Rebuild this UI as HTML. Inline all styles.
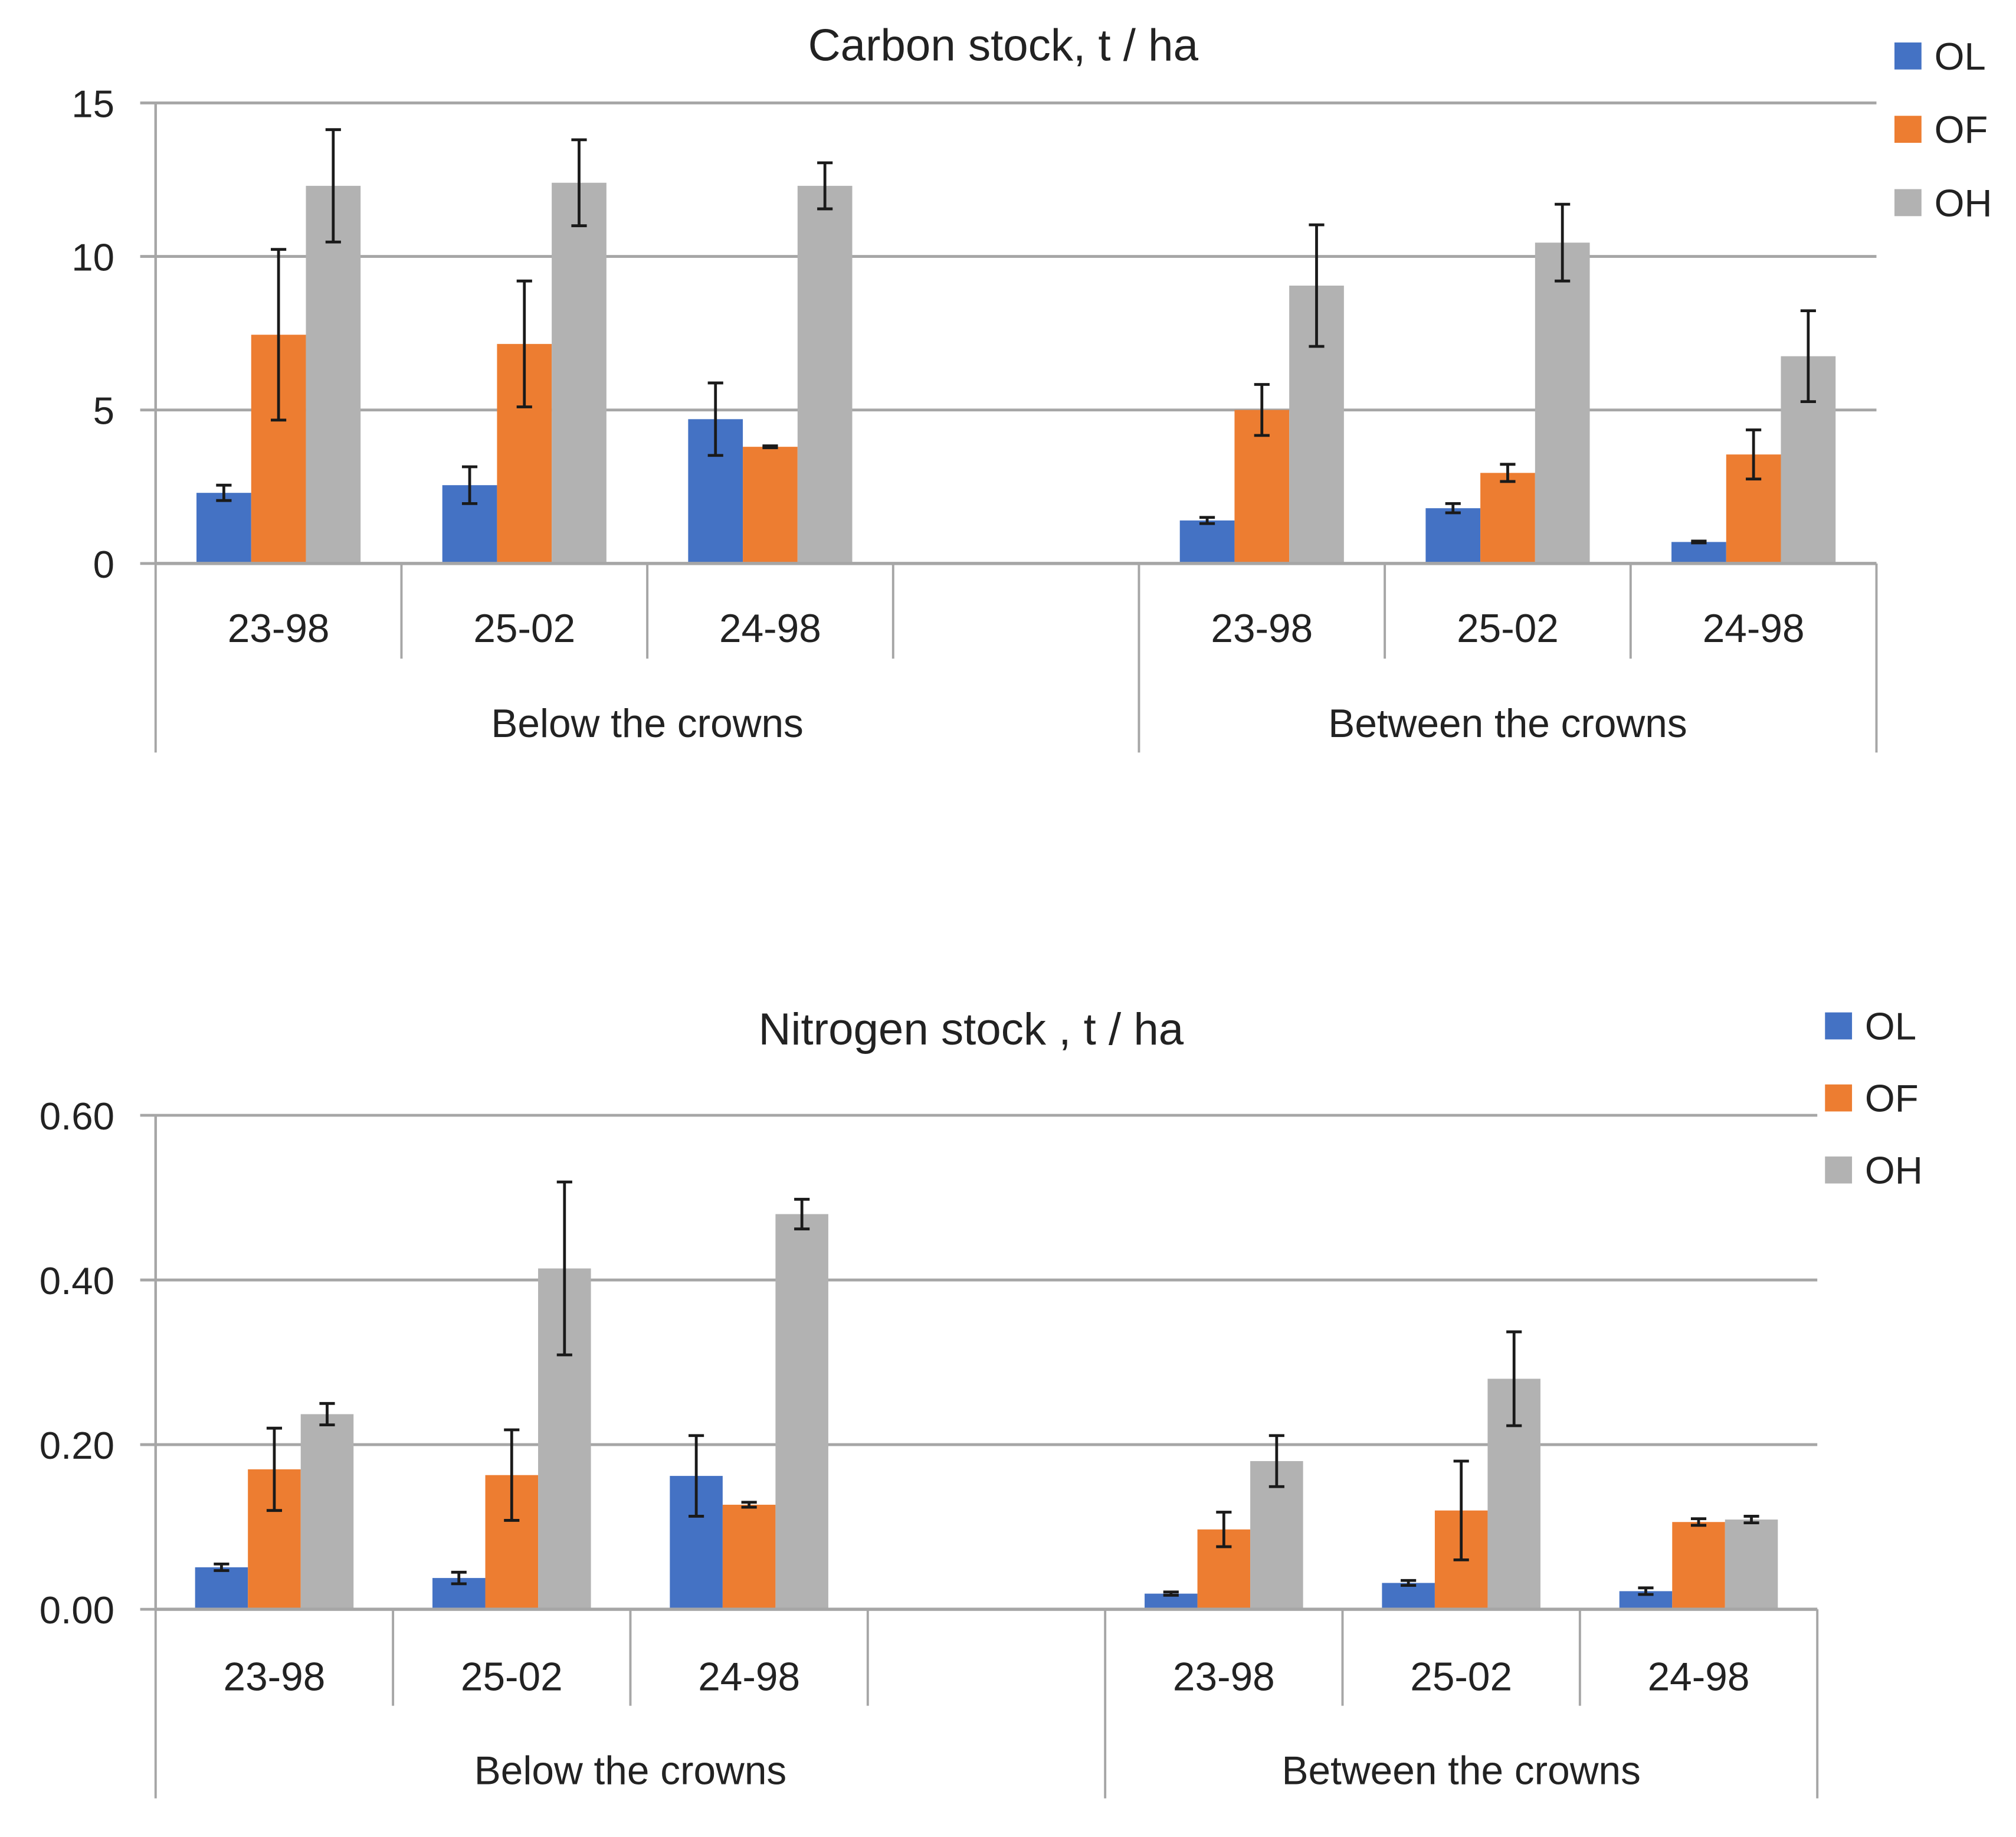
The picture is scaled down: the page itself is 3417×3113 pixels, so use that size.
<!DOCTYPE html>
<html><head><meta charset="utf-8">
<style>
html,body{margin:0;padding:0;background:#fff;}
svg{display:block;font-family:"Liberation Sans",sans-serif;}
</style></head>
<body>
<svg id="chart" width="3417" height="3113" viewBox="0 0 1567.5 1428" xmlns="http://www.w3.org/2000/svg"></svg>
<script>
const categories = ["23-98","25-02","24-98","","23-98","25-02","24-98"];
const groups = ["Below the crowns","Between the crowns"];
const seriesNames = ["OL","OF","OH"];
const carbonOL = [2.3,2.55,4.7,null,1.4,1.8,0.7];
const carbonOF = [7.45,7.15,3.8,null,5.0,2.95,3.55];
const carbonOH = [12.3,12.4,12.3,null,9.05,10.45,6.75];
const carbonOLerr = [0.25,0.6,1.18,null,0.1,0.15,0.03];
const carbonOFerr = [2.78,2.05,0.03,null,0.83,0.28,0.8];
const carbonOHerr = [1.83,1.4,0.75,null,1.98,1.25,1.48];
const carbonTicks = [0,5,10,15];
const carbonTickLabels = ["0","5","10","15"];
const nitroOL = [0.051,0.038,0.162,null,0.019,0.032,0.022];
const nitroOF = [0.170,0.163,0.127,null,0.097,0.120,0.106];
const nitroOH = [0.237,0.414,0.480,null,0.180,0.280,0.109];
const nitroOLerr = [0.004,0.007,0.049,null,0.002,0.003,0.004];
const nitroOFerr = [0.05,0.055,0.003,null,0.021,0.06,0.004];
const nitroOHerr = [0.013,0.105,0.018,null,0.031,0.057,0.004];
const nitroTicks = [0,0.2,0.4,0.6];
const nitroTickLabels = ["0.00","0.20","0.40","0.60"];

const colors = ["#4472C4","#ED7D31","#B2B2B2"];
const svg = document.getElementById('chart');
const NS = "http://www.w3.org/2000/svg";
function mk(tag, attrs, parent){const e=document.createElementNS(NS,tag);for(const k in attrs)e.setAttribute(k,attrs[k]);(parent||svg).appendChild(e);return e;}

function drawChart(cfg){
  const g = mk('g',{});
  
  
  const {left,right,top,bottom,max} = cfg;
  const y = v => bottom - (v/max)*(bottom-top);
  const slot = (right-left)/categories.length;
  const x = i => left + slot*i;
  const t = mk('text',{x:(left+right)/2+cfg.titleDx,y:cfg.titleY,'font-size':35,'text-anchor':'middle',fill:'#222'},g);
  t.textContent = cfg.title;
  
  
  cfg.ticks.forEach((v,i)=>{
    const l = mk('line',{x1:left-12,x2:right,y1:y(v),y2:y(v),stroke:'#A6A6A6','stroke-width':2.2},g);
    
    
    const tl = mk('text',{x:left-32,y:y(v)+11,'font-size':30,'text-anchor':'end',fill:'#222'},g);
    tl.textContent = cfg.tickLabels[i];
    
    
  });
  const ya = mk('line',{x1:left,x2:left,y1:top,y2:bottom,stroke:'#A6A6A6','stroke-width':2},g);
  
  
  const bw = 42.5*(slot/191);
  const series = cfg.series;
  categories.forEach((c,i)=>{
    const cx = x(i)+slot/2;
    series.forEach((s,k)=>{
      const v = s.vals[i]; if(v==null) return;
      const bx = cx - 1.5*bw + k*bw;
      const r = mk('rect',{x:bx,y:y(v),width:bw,height:bottom-y(v),fill:colors[k]},g);
      
      
    });
    series.forEach((s,k)=>{
      const v = s.vals[i]; if(v==null) return;
      const e = s.err[i];
      const ex = cx - 1.5*bw + k*bw + bw/2;
      const eg = mk('g',{stroke:'#1a1a1a','stroke-width':2.2},g);
      
      
      mk('line',{x1:ex,x2:ex,y1:y(v+e),y2:y(v-e)},eg);
      mk('line',{x1:ex-6,x2:ex+6,y1:y(v+e),y2:y(v+e)},eg);
      mk('line',{x1:ex-6,x2:ex+6,y1:y(v-e),y2:y(v-e)},eg);
    });
  });
  const xa = mk('line',{x1:left,x2:right,y1:bottom,y2:bottom,stroke:'#A6A6A6','stroke-width':2.5},g);
  
  
  for(let i=0;i<=categories.length;i++){
    const long = (i===0||i===4||i===categories.length);
    const l = mk('line',{x1:x(i),x2:x(i),y1:bottom,y2:long?cfg.groupBottom:cfg.catBottom,stroke:'#A6A6A6','stroke-width':1.8},g);
    
    
  }
  categories.forEach((c,i)=>{
    if(!c) return;
    const tl = mk('text',{x:x(i)+slot/2,y:cfg.catY,'font-size':31,'text-anchor':'middle',fill:'#222'},g);
    tl.textContent = c;
    
    
  });
  groups.forEach((gname,j)=>{
    const a = j===0? x(0):x(4), b = j===0? x(4):x(7);
    const tl = mk('text',{x:(a+b)/2,y:cfg.groupY,'font-size':31,'text-anchor':'middle',fill:'#222'},g);
    tl.textContent = gname;
    
    
  });
  seriesNames.forEach((n,k)=>{
    const ly = cfg.legendY + k*cfg.legendStep;
    const sq = mk('rect',{x:cfg.legendX,y:ly-10,width:21,height:21,fill:colors[k]},g);
    
    
    const tl = mk('text',{x:cfg.legendX+31,y:ly+11,'font-size':30,fill:'#222'},g);
    tl.textContent = n;
    
    
  });
}

drawChart({name:'carbon-chart',title:'Carbon stock, t / ha',titleDx:-10,titleY:47,left:121,right:1459,top:80,bottom:438,max:15,
  ticks:carbonTicks,tickLabels:carbonTickLabels,
  series:[{vals:carbonOL,err:carbonOLerr},{vals:carbonOF,err:carbonOFerr},{vals:carbonOH,err:carbonOHerr}],
  catBottom:512,groupBottom:585,catY:499,groupY:573,legendX:1473,legendY:43,legendStep:57});
drawChart({name:'nitrogen-chart',title:'Nitrogen stock , t / ha',titleDx:-12,titleY:812,left:121,right:1413,top:867,bottom:1251,max:0.6,
  ticks:nitroTicks,tickLabels:nitroTickLabels,
  series:[{vals:nitroOL,err:nitroOLerr},{vals:nitroOF,err:nitroOFerr},{vals:nitroOH,err:nitroOHerr}],
  catBottom:1326,groupBottom:1398,catY:1314,groupY:1387,legendX:1419,legendY:797,legendStep:56});
</script>
</body></html>
